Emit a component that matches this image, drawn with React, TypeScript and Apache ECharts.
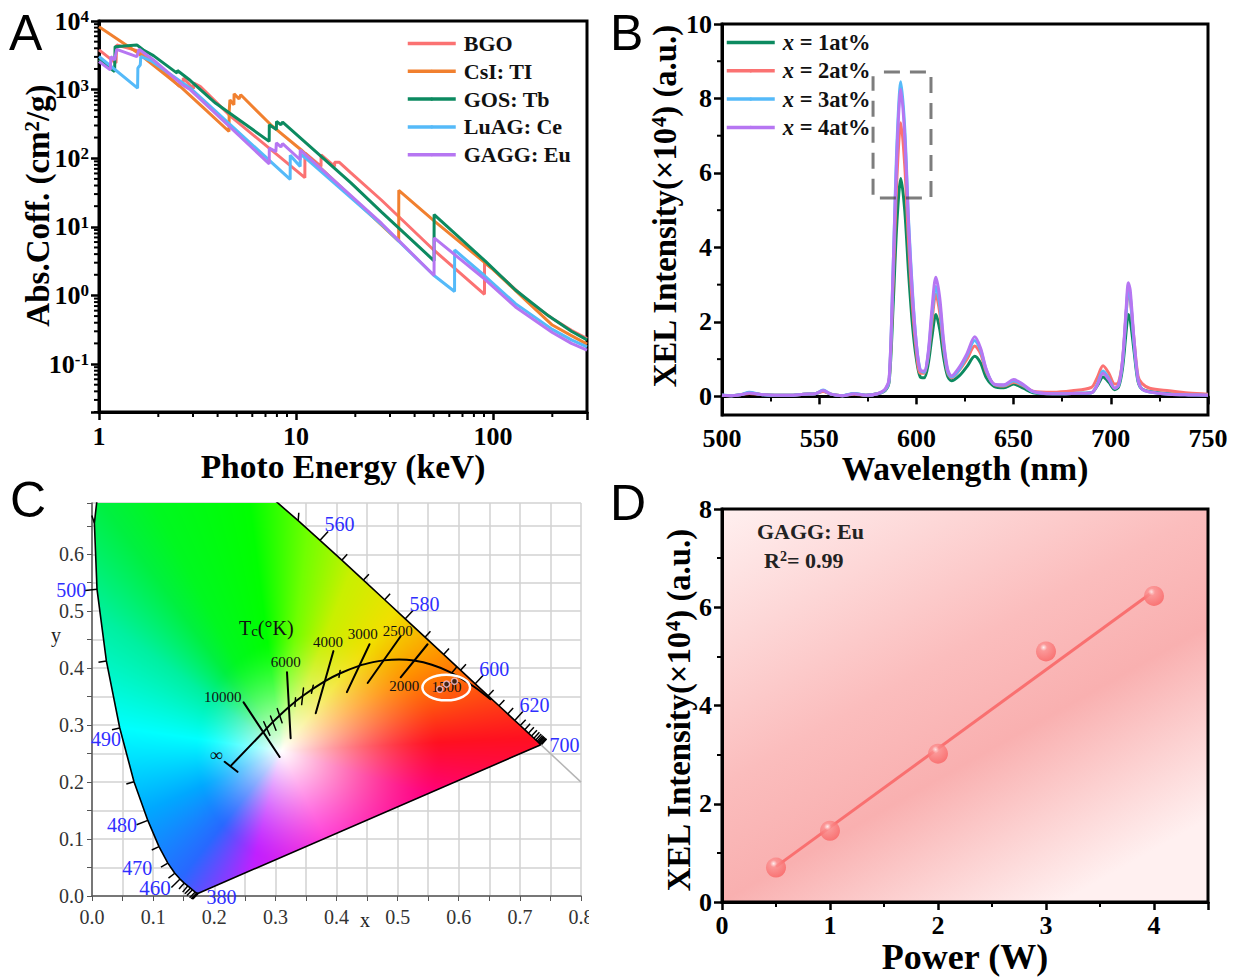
import React, { useEffect, useRef } from "react";
import * as echarts from "echarts";

const serif = "'Liberation Serif', serif";
const sans = "'Liberation Sans', sans-serif";

// ---------- Panel A ----------
const absNames = ["BGO", "CsI: TI", "GOS: Tb", "LuAG: Ce", "GAGG: Eu"];
const absColors = ["#fb7272", "#f1802f", "#0c8a60", "#55baf9", "#b676f2"];
const bgoAbs = [[1,3790],[1.16,2710],[1.22,2450],[1.23,4470],[1.56,3700],[2,2170],[2.56,1110],[2.58,1300],[2.66,1200],[2.68,1470],[3.02,1030],[3.03,1250],[3.27,1110],[4.66,407],[11.09,52],[11.1,120],[13.4,76],[13.41,112],[15.7,76],[15.71,87],[16.6,87],[19,61],[27.2,24.4],[50,4.6],[90.5,1.04],[90.55,3.0],[100,2.4],[130,1.22],[150,0.84],[200,0.46],[250,0.31],[300,0.235]];
const csiAbs = [[1,8250],[1.585,3390],[2.64,1052],[3.47,510],[4.57,245],[4.58,481],[4.62,708],[4.84,600],[4.85,870],[5.14,728],[5.24,840],[7.45,307],[10.6,133],[33.2,6.2],[33.25,34],[50.4,12.1],[100,2.4],[150,0.8],[200,0.37],[250,0.26],[300,0.195]];
const gosAbs = [[1,2750],[1.14,2040],[1.2,1830],[1.207,4230],[1.556,4480],[1.68,3780],[1.89,3130],[2.49,1740],[2.5,1900],[2.91,1355],[3.9,637],[7.31,176],[7.32,307],[7.95,261],[7.96,344],[8.38,307],[8.55,336],[19,43.7],[27.2,16.4],[50.2,3.2],[50.25,15.1],[91.4,3.16],[130,1.2],[192,0.5],[250,0.3],[300,0.225]];
const luagAbs = [[1,3040],[1.57,1050],[1.575,2050],[1.62,2300],[1.63,3040],[1.86,2570],[2.91,1050],[3.83,510],[9.34,49],[9.35,110],[10.5,76],[10.51,115],[11.2,100],[27.2,10.8],[50.2,1.95],[63.8,1.14],[63.85,4.6],[91,1.92],[130,0.76],[200,0.32],[250,0.225],[300,0.178]];
const gaggAbs = [[1,2570],[1.14,1940],[1.15,3020],[1.2,2700],[1.23,3870],[1.556,3020],[1.6,3870],[1.89,2710],[2.64,1180],[2.91,993],[7.31,82.6],[7.32,141],[7.9,125],[7.95,167],[8.38,146],[8.55,163],[10.5,95],[10.51,133],[11.2,112],[27.2,11.2],[50.2,1.95],[50.25,6.9],[91,1.72],[130,0.68],[200,0.288],[250,0.2],[300,0.16]];
const absSeries = [bgoAbs, csiAbs, gosAbs, luagAbs, gaggAbs];
const absMinorX = [2,3,4,5,6,7,8,9,20,30,40,50,60,70,80,90,200];
const absMinorY = [0.02,0.03,0.04,0.05,0.06,0.07,0.08,0.09,0.2,0.3,0.4,0.5,0.6,0.7,0.8,0.9,2,3,4,5,6,7,8,9,20,30,40,50,60,70,80,90,200,300,400,500,600,700,800,900,2000,3000,4000,5000,6000,7000,8000,9000];

// ---------- Panel B ----------
const xelNames = ["x = 1at%", "x = 2at%", "x = 3at%", "x = 4at%"];
const xelColors = ["#0c8a60", "#fb7272", "#55baf9", "#b676f2"];
const wavelengths = [500,505,510,514,520,527,535,542,548,552,556,562,568,574,580,584,586,588,590,592,594,596,598,600,602,604,606,608,610,612,614,616,618,622,626,630,633,636,640,645,650,655,660,670,680,690,693,696,699,702,704,706,708,709,710,712,714,716,720,730,740,750];
const xel1 = [.03,.02,.05,.09,.05,.03,.03,.06,.07,.14,.06,.02,.07,.03,.07,.16,.4,2.4,4.7,5.85,5.0,3.3,1.9,1.0,.52,.5,.85,1.6,2.2,1.8,1.05,.55,.42,.55,.8,1.08,.9,.5,.27,.23,.33,.22,.1,.07,.08,.1,.28,.52,.38,.18,.25,.75,1.8,2.2,2.05,1.2,.4,.2,.13,.07,.05,.04];
const xel2 = [.03,.02,.05,.08,.05,.03,.03,.06,.07,.13,.06,.02,.06,.03,.07,.18,.45,3.0,5.9,7.35,6.2,4.1,2.4,1.2,.62,.62,1.05,2.0,2.75,2.25,1.3,.65,.5,.7,1.0,1.35,1.15,.65,.32,.28,.38,.28,.14,.11,.15,.24,.5,.82,.62,.33,.38,.95,2.3,2.8,2.6,1.5,.55,.35,.22,.15,.09,.06];
const xel3 = [.04,.02,.05,.11,.05,.03,.03,.06,.07,.17,.06,.02,.08,.03,.07,.18,.45,3.4,6.8,8.45,7.2,4.7,2.8,1.4,.7,.65,1.1,2.2,2.95,2.45,1.4,.7,.52,.72,1.1,1.5,1.25,.7,.32,.3,.42,.3,.12,.07,.08,.1,.32,.68,.48,.22,.3,.9,2.3,2.9,2.7,1.4,.45,.2,.12,.06,.04,.03];
const xel4 = [.03,.02,.05,.09,.05,.03,.03,.06,.07,.16,.06,.02,.07,.03,.07,.2,.5,3.4,6.6,8.25,7.0,4.6,2.7,1.4,.7,.68,1.15,2.35,3.2,2.65,1.5,.75,.55,.78,1.15,1.6,1.3,.72,.33,.31,.45,.32,.13,.07,.08,.1,.3,.62,.45,.22,.3,.95,2.45,3.05,2.85,1.5,.45,.2,.12,.06,.04,.03];
const xelSeries = [xel1, xel2, xel3, xel4];
const xelDashBox = [[583.3,8.71],[607.5,8.71],[607.5,5.33],[577.7,5.33],[577.7,8.6]];
const xelMajorY = [0,2,4,6,8,10];
const xelMinorY = [1,3,5,7,9];

// ---------- Panel C ----------
const spectralLocus = [[380,.1741,.0050],[400,.1733,.0048],[410,.1726,.0048],[420,.1714,.0051],[430,.1689,.0069],[440,.1644,.0109],[445,.1611,.0138],[450,.1566,.0177],[455,.1510,.0227],[460,.1440,.0297],[465,.1355,.0399],[470,.1241,.0578],[475,.1096,.0868],[480,.0913,.1327],[485,.0687,.2007],[490,.0454,.2950],[495,.0235,.4127],[500,.0082,.5384],[505,.0039,.6548],[510,.0139,.7502],[515,.0389,.8120],[520,.0743,.8338],[525,.1142,.8262],[530,.1547,.8059],[535,.1929,.7816],[540,.2296,.7543],[545,.2658,.7243],[550,.3016,.6923],[555,.3373,.6589],[560,.3731,.6245],[565,.4087,.5896],[570,.4441,.5547],[575,.4788,.5202],[580,.5125,.4866],[585,.5448,.4544],[590,.5752,.4242],[595,.6029,.3965],[600,.6270,.3725],[605,.6482,.3514],[610,.6658,.3340],[615,.6801,.3197],[620,.6915,.3083],[625,.7006,.2993],[630,.7079,.2920],[635,.7140,.2859],[640,.7190,.2809],[645,.7230,.2770],[650,.7260,.2740],[655,.7283,.2717],[660,.7300,.2700],[665,.7311,.2689],[670,.7320,.2680],[680,.7334,.2666],[690,.7344,.2656],[700,.7347,.2653]];
const planckLocus = [[.6528,.3444],[.6251,.3674],[.5857,.3931],[.556,.406],[.5267,.4133],[.5023,.4152],[.4770,.4137],[.4599,.4106],[.4369,.4041],[.4053,.3907],[.3805,.3768],[.3451,.3516],[.3221,.3318],[.2952,.3048],[.2807,.2884],[.2266,.2280]];
const isotherms = [[.248,.340,.307,.244],[.319,.393,.325,.277],[.395,.430,.366,.321],[.454,.442,.417,.358],[.505,.456,.451,.374],[.549,.442,.505,.384],[.217,.2356,.238,.218]];
const planckTicks = [[.281,.306,.291,.282],[.292,.316,.301,.291],[.303,.329,.311,.304],[.333,.348,.332,.333],[.346,.365,.343,.336],[.362,.370,.359,.356],[.406,.396,.404,.384],[.596,.401,.588,.391]];
const blueLabels = [["560",.405,.654,20],["580",.544,.512,20],["600",.658,.398,20],["620",.724,.335,20],["700",.773,.265,20],["500",-.034,.537,20],["490",.023,.275,20],["480",.049,.125,20],["470",.074,.049,20],["460",.103,.014,21],["380",.212,-.002,20]];
const tempLabels = [["10000",.214,.349,15],["6000",.317,.411,15],["4000",.386,.446,15],["3000",.443,.460,15],["2500",.500,.465,15],["2000",.511,.368,15],["1500",.580,.367,15],["∞",.203,.247,18]];
const samplePoints = [[.569,.363],[.580,.372],[.593,.377]];
const sampleEllipse = [.5795,.366,.039,.0225];
const extensionLine = [[.7347,.2653],[.8,.2]];
const gamutWhite = [.31,.255];
const gamutAnchors: [number, number, string][] = [
  [.258,.69,"#00ff00"],[.12,.65,"#00f820"],[.051,.637,"#00f040"],[.051,.461,"#00f0a0"],[.106,.286,"#00ffff"],[.127,.168,"#00a8ff"],[.16,.051,"#2868ff"],[.27,.081,"#c020ff"],[.368,.133,"#ff20d0"],[.487,.198,"#ff0080"],[.65,.274,"#ff1020"],[.596,.344,"#ff5010"],[.541,.402,"#ff9000"],[.476,.472,"#f0e000"],[.422,.567,"#c8f000"],[.351,.625,"#70ff00"],
];

// ---------- Panel D ----------
const powerValues = [0.5, 1, 2, 3, 4];
const xelPeak = [0.7, 1.45, 3.02, 5.1, 6.23];
const fitLine = [[0.5,0.72],[4,6.33]];

function hexRgb(h: string) {
  return [parseInt(h.slice(1, 3), 16), parseInt(h.slice(3, 5), 16), parseInt(h.slice(5, 7), 16)];
}

function buildGamut(w: number, h: number, xMax: number, yMax: number): string {
  const anchors = gamutAnchors
    .map((a) => ({ ang: Math.atan2(a[1] - gamutWhite[1], a[0] - gamutWhite[0]), rgb: hexRgb(a[2]) }))
    .sort((p, q) => p.ang - q.ang);
  const hueAt = (ang: number) => {
    const n = anchors.length;
    for (let i = 0; i < n; i++) {
      const a = anchors[i], b = anchors[(i + 1) % n];
      const a0 = a.ang;
      let b0 = b.ang;
      if (b0 <= a0) b0 += Math.PI * 2;
      let t = ang;
      if (t < a0) t += Math.PI * 2;
      if (t >= a0 && t <= b0) {
        const f = (t - a0) / (b0 - a0);
        return [0, 1, 2].map((k) => a.rgb[k] + (b.rgb[k] - a.rgb[k]) * f);
      }
    }
    return anchors[0].rgb;
  };
  const src = document.createElement("canvas");
  src.width = w; src.height = h;
  const sctx = src.getContext("2d")!;
  const img = sctx.createImageData(w, h);
  for (let j = 0; j < h; j++) {
    for (let i = 0; i < w; i++) {
      const x = (i + 0.5) / w * xMax, y = yMax - (j + 0.5) / h * yMax;
      const dx = x - gamutWhite[0], dy = y - gamutWhite[1];
      const ang = Math.atan2(dy, dx);
      const radius = 0.2 + 0.06 * Math.cos(ang);
      const t = Math.min(1, Math.hypot(dx, dy) / radius);
      const s = 1 - Math.pow(1 - t, 1.4);
      const c = hueAt(ang);
      const k = (j * w + i) * 4;
      for (let q = 0; q < 3; q++) img.data[k + q] = 255 + (c[q] - 255) * s;
      img.data[k + 3] = 255;
    }
  }
  sctx.putImageData(img, 0, 0);
  const out = document.createElement("canvas");
  out.width = w; out.height = h;
  const ctx = out.getContext("2d")!;
  ctx.beginPath();
  spectralLocus.forEach((p, i) => {
    const px = p[1] / xMax * w, py = (yMax - p[2]) / yMax * h;
    if (i === 0) ctx.moveTo(px, py); else ctx.lineTo(px, py);
  });
  ctx.closePath();
  ctx.clip();
  ctx.drawImage(src, 0, 0);
  return out.toDataURL("image/png");
}

const segRender = (color: string, width: number) => (_: any, api: any) => {
  const a = api.coord([api.value(0), api.value(1)]);
  const b = api.coord([api.value(2), api.value(3)]);
  return { type: "line", shape: { x1: a[0], y1: a[1], x2: b[0], y2: b[1] }, style: { stroke: color, lineWidth: width, lineCap: "round" } };
};

const segSeries = (gi: number, data: number[][], color: string, width: number) => ({
  type: "custom", xAxisIndex: gi, yAxisIndex: gi, silent: true, data,
  encode: { x: [0, 2], y: [1, 3] }, renderItem: segRender(color, width),
});

const minorTicks = (gi: number, axis: "x" | "y", values: number[], ref: number, len: number) => ({
  type: "custom", xAxisIndex: gi, yAxisIndex: gi, silent: true,
  data: values.map((v) => (axis === "x" ? [v, ref] : [ref, v])),
  renderItem: (p: any, api: any) => {
    const c = api.coord([api.value(0), api.value(1)]);
    const cs = p.coordSys;
    const shape = axis === "x"
      ? { x1: c[0], y1: cs.y + cs.height, x2: c[0], y2: cs.y + cs.height + len }
      : { x1: cs.x, y1: c[1], x2: cs.x - len, y2: c[1] };
    return { type: "line", shape, style: { stroke: "#000", lineWidth: 2 } };
  },
});

const textSeries = (gi: number, data: any[], color: string) => ({
  type: "custom", xAxisIndex: gi, yAxisIndex: gi, silent: true, data,
  encode: { x: 1, y: 2 },
  renderItem: (p: any, api: any) => {
    const d = data[p.dataIndex];
    const c = api.coord([d[1], d[2]]);
    return { type: "text", x: c[0], y: c[1], style: { text: d[0], fill: color, font: `${d[3]}px ${serif}`, align: "center", verticalAlign: "middle" } };
  },
});

const richNum = {
  b: { fontFamily: serif, fontWeight: "bold", fontSize: 26, color: "#000" },
  s: { fontFamily: serif, fontWeight: "bold", fontSize: 17, color: "#000", verticalAlign: "top" },
};
const titleStyle = (size: number, padding?: number[]) => ({
  fontFamily: serif, fontWeight: "bold", fontSize: size, color: "#000", padding,
  rich: {
    t: { fontFamily: serif, fontWeight: "bold", fontSize: size, color: "#000" },
    s: { fontFamily: serif, fontWeight: "bold", fontSize: size * 0.63, color: "#000", verticalAlign: "top" },
  },
});
const numLabel = { fontFamily: serif, fontWeight: "bold", fontSize: 26, color: "#000", margin: 10 };
const frameTick = { show: true, inside: false, length: 8, lineStyle: { color: "#000", width: 2.5 } };
const minorTick = { show: true, splitNumber: 2, length: 5, lineStyle: { color: "#000", width: 2 } };
const frameLine = { show: true, lineStyle: { color: "#000", width: 3 } };

export default function App() {
  const ref = useRef<HTMLDivElement>(null);
  useEffect(() => {
    const chart = echarts.init(ref.current!, undefined, { renderer: "svg", width: 1235, height: 978 });
    const gamut = buildGamut(489, 393, 0.8, 0.69);
    const frame = { show: true, borderColor: "#000", borderWidth: 3 };
    const option: any = {
      animation: false,
      backgroundColor: "#fff",
      grid: [
        { ...frame, left: 99, top: 21, width: 488, height: 391 },
        { ...frame, left: 722, top: 24, width: 486, height: 391 },
        { show: false, left: 92, top: 503, width: 489, height: 393 },
        {
          ...frame, left: 722, top: 509, width: 486, height: 393,
          backgroundColor: new echarts.graphic.LinearGradient(0, 0, 0.7, 1, [
            { offset: 0, color: "#fff0f0" },
            { offset: 0.47, color: "#fbbdbd" },
            { offset: 0.67, color: "#f9b0b0" },
            { offset: 1, color: "#fff0f0" },
          ]),
        },
      ],
      legend: [
        {
          data: absNames, left: 401, top: 27.5, orient: "vertical", itemWidth: 48, itemHeight: 4, itemGap: 5.8, selectedMode: false,
          lineStyle: { width: 3.5 },
          textStyle: { fontFamily: serif, fontWeight: "bold", fontSize: 22, lineHeight: 22, color: "#111", padding: [0, 0, 0, 3] },
        },
        {
          data: xelNames, left: 720, top: 26, orient: "vertical", itemWidth: 48, itemHeight: 4, itemGap: 5.3, selectedMode: false,
          lineStyle: { width: 3.5 },
          formatter: (n: string) => `{i|x}{n|${n.slice(1)}}`,
          textStyle: {
            fontFamily: serif, fontWeight: "bold", fontSize: 22.5, lineHeight: 22, color: "#111", padding: [0, 0, 0, 3],
            rich: {
              i: { fontFamily: serif, fontWeight: "bold", fontStyle: "italic", fontSize: 22.5, lineHeight: 22, color: "#111" },
              n: { fontFamily: serif, fontWeight: "bold", fontSize: 22.5, lineHeight: 22, color: "#111" },
            },
          },
        },
      ],
      xAxis: [
        {
          gridIndex: 0, type: "log", logBase: 10, min: 1, max: 300,
          name: "Photo Energy (keV)", nameLocation: "middle", nameGap: 35, nameTextStyle: titleStyle(33.5),
          axisLine: frameLine, axisTick: frameTick, splitLine: { show: false }, minorTick: { show: false },
          axisLabel: { ...numLabel, margin: 11, formatter: (v: number) => ([1, 10, 100].includes(Math.round(v)) && Math.abs(v - Math.round(v)) < 1e-6 ? String(Math.round(v)) : "") },
        },
        {
          gridIndex: 1, type: "value", min: 500, max: 750, interval: 50,
          name: "Wavelength (nm)", nameLocation: "middle", nameGap: 35, nameTextStyle: titleStyle(33.5),
          axisLine: frameLine, axisTick: frameTick, minorTick, splitLine: { show: false }, axisLabel: numLabel,
        },
        {
          gridIndex: 2, type: "value", min: 0, max: 0.8, interval: 0.05,
          axisLine: { show: true, lineStyle: { color: "#555", width: 1.5 } },
          axisTick: { show: true, length: 5, lineStyle: { color: "#555", width: 1 } },
          splitLine: { show: true, lineStyle: { color: "#d2d2d2", width: 1.5 } },
          axisLabel: {
            fontFamily: serif, fontSize: 20, color: "#333", margin: 11,
            formatter: (v: number) => (Math.round(v * 100) % 10 === 0 ? v.toFixed(1) : ""),
          },
        },
        {
          gridIndex: 3, type: "value", min: 0, max: 4.5, interval: 1,
          name: "Power (W)", nameLocation: "middle", nameGap: 37, nameTextStyle: titleStyle(36),
          axisLine: frameLine, axisTick: frameTick, minorTick, splitLine: { show: false },
          axisLabel: { ...numLabel, formatter: (v: number) => (v > 4 ? "" : String(v)) },
        },
      ],
      yAxis: [
        {
          gridIndex: 0, type: "log", logBase: 10, min: 0.02, max: 10000,
          name: "{t|Abs.Coff. (cm}{s|2}{t|/g)}", nameLocation: "middle", nameGap: 45, nameMoveOverlap: false, nameTextStyle: titleStyle(33, [0, 0, 0, 22]),
          axisLine: frameLine, axisTick: frameTick, splitLine: { show: false }, minorTick: { show: false },
          axisLabel: {
            margin: 10, rich: richNum,
            formatter: (v: number) => {
              const e = Math.log10(v);
              return Math.abs(e - Math.round(e)) < 1e-6 ? `{b|10}{s|${Math.round(e)}}` : "";
            },
          },
        },
        {
          gridIndex: 1, type: "value", min: -0.5, max: 10,
          name: "{t|XEL Intensity(×10}{s|4}{t|) (a.u.)}", nameLocation: "middle", nameGap: 41, nameTextStyle: titleStyle(32.7, [0, 0, 0, 26]),
          axisLine: frameLine, axisTick: { ...frameTick, customValues: xelMajorY }, splitLine: { show: false },
          axisLabel: { ...numLabel, customValues: xelMajorY },
        },
        {
          gridIndex: 2, type: "value", min: 0, max: 0.69, interval: 0.05,
          axisLine: { show: true, lineStyle: { color: "#555", width: 1.5 } },
          axisTick: { show: true, length: 5, lineStyle: { color: "#555", width: 1 } },
          splitLine: { show: true, lineStyle: { color: "#d2d2d2", width: 1.5 } },
          axisLabel: {
            fontFamily: serif, fontSize: 20, color: "#333", margin: 8,
            formatter: (v: number) => (Math.round(v * 100) % 10 === 0 && v < 0.65 ? v.toFixed(1) : ""),
          },
        },
        {
          gridIndex: 3, type: "value", min: 0, max: 8, interval: 2,
          name: "{t|XEL Intensity(×10}{s|4}{t|) (a.u.)}", nameLocation: "middle", nameGap: 27, nameTextStyle: titleStyle(32.7, [0, 10, 0, 0]),
          axisLine: frameLine, axisTick: frameTick, minorTick, splitLine: { show: false }, axisLabel: numLabel,
        },
      ],
      series: [
        // Panel A
        ...absSeries.map((d, i) => ({
          type: "line", name: absNames[i], xAxisIndex: 0, yAxisIndex: 0, data: d, symbol: "none",
          color: absColors[i], lineStyle: { color: absColors[i], width: 3 },
        })),
        minorTicks(0, "x", absMinorX, 1, 5),
        minorTicks(0, "y", absMinorY, 1, 5),
        // Panel B
        ...xelSeries.map((d, i) => ({
          type: "line", name: xelNames[i], xAxisIndex: 1, yAxisIndex: 1, smooth: 0.3, symbol: "none",
          data: wavelengths.map((w, k) => [w, d[k]]),
          color: xelColors[i], lineStyle: { color: xelColors[i], width: 3 },
        })),
        {
          type: "line", xAxisIndex: 1, yAxisIndex: 1, data: xelDashBox, symbol: "none", silent: true,
          lineStyle: { color: "rgba(70,70,70,0.7)", width: 3, type: [16, 10] },
        },
        minorTicks(1, "y", xelMinorY, 500, 5),
        // Panel C
        {
          type: "custom", xAxisIndex: 2, yAxisIndex: 2, silent: true, data: [[0, 0.69, 0.8, 0]],
          encode: { x: [0, 2], y: [1, 3] }, z: 2,
          renderItem: (_: any, api: any) => {
            const a = api.coord([api.value(0), api.value(1)]);
            const b = api.coord([api.value(2), api.value(3)]);
            return { type: "image", style: { image: gamut, x: a[0], y: a[1], width: b[0] - a[0], height: b[1] - a[1] } };
          },
        },
        {
          type: "line", xAxisIndex: 2, yAxisIndex: 2, z: 3, symbol: "none", silent: true,
          data: [...spectralLocus.map((p) => [p[1], p[2]]), [spectralLocus[0][1], spectralLocus[0][2]]],
          lineStyle: { color: "#000", width: 1.6 },
        },
        {
          type: "line", xAxisIndex: 2, yAxisIndex: 2, z: 3, symbol: "none", silent: true, data: extensionLine,
          lineStyle: { color: "#b5b5b5", width: 1.5 },
        },
        {
          type: "custom", xAxisIndex: 2, yAxisIndex: 2, silent: true, z: 3,
          data: spectralLocus.filter((p) => p[2] < 0.68).map((p) => [p[0], p[1], p[2]]),
          encode: { x: 1, y: 2 },
          renderItem: (p: any, api: any) => {
            const arr = spectralLocus.filter((q) => q[2] < 0.68);
            const i = p.dataIndex;
            const wl = arr[i][0];
            let from = arr[Math.max(0, i - 1)], to = arr[Math.min(arr.length - 1, i + 1)];
            if (wl <= 445) { from = arr[0]; to = spectralLocus.find((q) => q[0] === 470)!; }
            if (wl >= 640) { from = spectralLocus.find((q) => q[0] === 600)!; to = spectralLocus[spectralLocus.length - 1]; }
            const c = api.coord([arr[i][1], arr[i][2]]);
            const a = api.coord([from[1], from[2]]), b = api.coord([to[1], to[2]]);
            const dx = b[0] - a[0], dy = b[1] - a[1];
            const l = Math.hypot(dx, dy) || 1;
            const len = wl % 20 === 0 && wl >= 460 && wl <= 620 ? 12 : 8;
            return {
              type: "line",
              shape: { x1: c[0], y1: c[1], x2: c[0] + (dy / l) * len, y2: c[1] - (dx / l) * len },
              style: { stroke: "#000", lineWidth: 1.5 },
            };
          },
        },
        {
          type: "line", xAxisIndex: 2, yAxisIndex: 2, z: 4, symbol: "none", silent: true, smooth: 0.3, data: planckLocus,
          lineStyle: { color: "#000", width: 2 },
        },
        { ...segSeries(2, isotherms, "#000", 2), z: 4 },
        { ...segSeries(2, planckTicks, "#000", 1.5), z: 4 },
        { ...textSeries(2, blueLabels, "#2f2fff"), z: 5 },
        { ...textSeries(2, tempLabels, "#111"), z: 5 },
        {
          type: "custom", xAxisIndex: 2, yAxisIndex: 2, silent: true, z: 6, data: [sampleEllipse],
          encode: { x: 0, y: 1 },
          renderItem: (_: any, api: any) => {
            const c = api.coord([sampleEllipse[0], sampleEllipse[1]]);
            const e = api.coord([sampleEllipse[0] + sampleEllipse[2], sampleEllipse[1] + sampleEllipse[3]]);
            return { type: "ellipse", shape: { cx: c[0], cy: c[1], rx: e[0] - c[0], ry: c[1] - e[1] }, style: { fill: "none", stroke: "#fff", lineWidth: 2.5 } };
          },
        },
        {
          type: "scatter", xAxisIndex: 2, yAxisIndex: 2, z: 7, silent: true, data: samplePoints, symbolSize: 6,
          itemStyle: { color: "#111", borderColor: "#f7c3d8", borderWidth: 1.5 },
        },
        // Panel D
        {
          type: "line", xAxisIndex: 3, yAxisIndex: 3, data: fitLine, symbol: "none", silent: true,
          lineStyle: { color: "#f97070", width: 3 },
        },
        {
          type: "scatter", xAxisIndex: 3, yAxisIndex: 3, symbolSize: 20, z: 4,
          data: powerValues.map((p, i) => [p, xelPeak[i]]),
          itemStyle: {
            color: new echarts.graphic.RadialGradient(0.38, 0.3, 0.7, [
              { offset: 0, color: "#ffffff" },
              { offset: 0.25, color: "#fb9090" },
              { offset: 1, color: "#f96464" },
            ]),
          },
        },
      ],
      graphic: [
        { type: "text", left: 9, top: 8, style: { text: "A", font: `50px ${sans}`, fill: "#000" } },
        { type: "text", left: 610, top: 8, style: { text: "B", font: `50px ${sans}`, fill: "#000" } },
        { type: "text", left: 10, top: 475, style: { text: "C", font: `50px ${sans}`, fill: "#000" } },
        { type: "text", left: 610, top: 478, style: { text: "D", font: `50px ${sans}`, fill: "#000" } },
        { type: "text", left: 51, top: 625, style: { text: "y", font: `20px ${serif}`, fill: "#222" } },
        { type: "text", left: 360, top: 910, style: { text: "x", font: `20px ${serif}`, fill: "#222" } },
        {
          type: "text", left: 239, top: 618, z: 20,
          style: {
            text: "{t|T}{c|c}{t|(°K)}", fill: "#111",
            rich: {
              t: { fontFamily: serif, fontSize: 20, fill: "#111", color: "#111" },
              c: { fontFamily: serif, fontSize: 15, fill: "#111", color: "#111", verticalAlign: "bottom" },
            },
          },
        },
        { type: "rect", z: 50, shape: { x: 589, y: 903, width: 30, height: 30 }, style: { fill: "#fff" } },
        { type: "text", left: 757, top: 520, z: 20, style: { text: "GAGG: Eu", font: `bold 22px ${serif}`, fill: "#222" } },
        {
          type: "text", left: 764, top: 549, z: 20,
          style: {
            text: "{t|R}{s|2}{t|= 0.99}",
            rich: {
              t: { fontFamily: serif, fontWeight: "bold", fontSize: 22, color: "#222", fill: "#222" },
              s: { fontFamily: serif, fontWeight: "bold", fontSize: 14, color: "#222", fill: "#222", verticalAlign: "top" },
            },
          },
        },
      ],
    };
    chart.setOption(option);
    return () => chart.dispose();
  }, []);
  return <div ref={ref} style={{ position: "absolute", left: 0, top: 0, width: 1235, height: 978 }} />;
}
